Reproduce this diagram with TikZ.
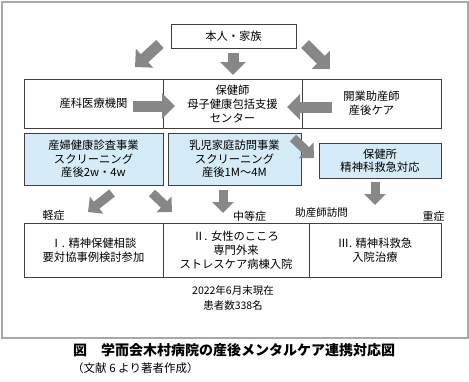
\documentclass[tikz,border=0pt]{standalone}
\usepackage{fontspec}
\setmainfont{Noto Sans CJK JP}
\usetikzlibrary{arrows.meta}
\definecolor{framegray}{HTML}{A8A8A8}
\definecolor{arrowgray}{HTML}{878787}
\definecolor{boxblue}{HTML}{D5EBF8}
\definecolor{boxline}{HTML}{404040}
\tikzset{
  cell/.style={draw=boxline, line width=0.7pt, inner sep=0pt, align=center,
    font=\fontsize{11.3}{14}\selectfont},
  bluecell/.style={cell, fill=boxblue, font=\fontsize{11.3}{13.5}\selectfont},
  lbl/.style={inner sep=0pt, font=\fontsize{11}{13}\selectfont},
  bigarrow/.style={draw=arrowgray, line width=11pt, -{Triangle[width=25pt,length=13pt]}},
  smallarrow/.style={draw=arrowgray, line width=9pt, -{Triangle[width=21pt,length=11pt]}}
}
\begin{document}
\begin{tikzpicture}[x=1pt,y=-1pt]
\useasboundingbox (0,0) rectangle (469,381);
% frame
\draw[framegray, line width=2pt] (1.5,1.5) rectangle (467.5,338);
% top
\node[cell, minimum width=125pt, minimum height=24pt] (top) at (233.5,36) {本人・家族};
% row 1
\node[cell, minimum width=139pt, minimum height=49pt] (obst) at (93.5,103.5) {産科医療機関};
\node[cell, minimum width=139pt, minimum height=49pt] (center) at (232.5,103.5) {保健師\\母子健康包括支援\\センター};
\node[cell, minimum width=139pt, minimum height=49pt] (midw) at (371.5,103.5) {開業助産師\\産後ケア};
% row 2
\node[bluecell, minimum width=139pt, minimum height=52pt] (scr1) at (93.5,159) {産婦健康診査事業\\スクリーニング\\産後2w・4w};
\node[bluecell, minimum width=133pt, minimum height=52pt] (scr2) at (234.5,159) {乳児家庭訪問事業\\スクリーニング\\産後1M〜4M};
\node[bluecell, minimum width=122pt, minimum height=35pt] (hc) at (380,160.5) {保健所\\精神科救急対応};
% labels
\node[lbl] (mild) at (53.5,215) {軽症};
\node[lbl] (moderate) at (249.5,216) {中等症};
\node[lbl, font=\fontsize{10.5}{13}\selectfont] (visit) at (321.5,213) {助産師訪問};
\node[lbl] (severe) at (433.5,216) {重症};
% row 3
\node[cell, minimum width=139pt, minimum height=54pt] (c1) at (93.5,250) {Ⅰ. 精神保健相談\\要対協事例検討参加};
\node[cell, minimum width=146pt, minimum height=54pt] (c2) at (236,250) {Ⅱ. 女性のこころ\\専門外来\\ストレスケア病棟入院};
\node[cell, minimum width=132pt, minimum height=54pt] (c3) at (375,250) {Ⅲ. 精神科救急\\入院治療};
% note
\node[inner sep=0pt, align=center, font=\fontsize{10.5}{15}\selectfont] (note) at (233,297.5) {2022年6月末現在\\患者数338名};
% caption
\node[inner sep=0pt, anchor=west, font=\fontsize{14}{16}\selectfont\bfseries] (cap) at (73,350) {図　学而会木村病院の産後メンタルケア連携対応図};
\node[inner sep=0pt, anchor=west, font=\fontsize{11.5}{14}\selectfont] (src) at (72,368) {（文献 6 より著者作成）};
% arrow end points
\coordinate (a1s) at (160,44); \coordinate (a1e) at (135,67);
\coordinate (a2s) at (233,53); \coordinate (a2e) at (233,75);
\coordinate (a3s) at (305,44); \coordinate (a3e) at (330,69);
\coordinate (a4s) at (133,106); \coordinate (a4e) at (175,106);
\coordinate (a5s) at (332,107); \coordinate (a5e) at (287,107);
\coordinate (a6s) at (293,138); \coordinate (a6e) at (314,158);
\coordinate (a7s) at (112,193); \coordinate (a7e) at (88,212);
\coordinate (a8s) at (152,193); \coordinate (a8e) at (172,212);
\coordinate (a9s) at (223,190); \coordinate (a9e) at (223,213);
\coordinate (a10s) at (375,182); \coordinate (a10e) at (375,205);
\draw[bigarrow] (a1s) -- (a1e);
\draw[bigarrow] (a2s) -- (a2e);
\draw[bigarrow] (a3s) -- (a3e);
\draw[bigarrow] (a4s) -- (a4e);
\draw[bigarrow] (a5s) -- (a5e);
\draw[smallarrow] (a6s) -- (a6e);
\draw[smallarrow] (a7s) -- (a7e);
\draw[smallarrow] (a8s) -- (a8e);
\draw[smallarrow] (a9s) -- (a9e);
\draw[smallarrow] (a10s) -- (a10e);
\end{tikzpicture}
\end{document}
